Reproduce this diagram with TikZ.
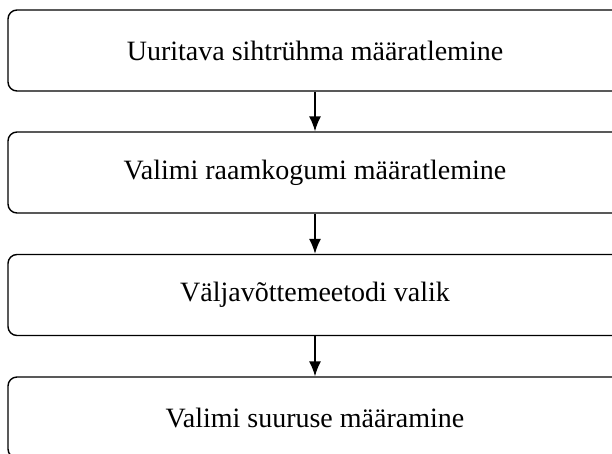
\documentclass[tikz,border=0pt]{standalone}
\usepackage{fontspec}
\setmainfont{Liberation Serif}
\usetikzlibrary{arrows.meta}

\tikzset{
  stage/.style={draw, line width=1.4pt, rounded corners=9pt, minimum width=614pt,
    minimum height=81pt, inner sep=0pt, font=\fontsize{28}{34}\selectfont},
  flow/.style={-{Latex[length=15pt,width=12pt]}, line width=1.4pt}
}

\begin{document}
\begin{tikzpicture}[x=1pt,y=1pt]
        \useasboundingbox (0,0) rectangle (612,-453);

        \node [stage] (sihtryhm) at (315, -50.5) {Uuritava sihtrühma määratlemine};
        \node [stage] (raamkogum) at (315, -172.5) {Valimi raamkogumi määratlemine};
        \node [stage] (meetod) at (315, -295) {Väljavõttemeetodi valik};
        \node [stage] (suurus) at (315, -417.5) {Valimi suuruse määramine};

        \draw[flow] (sihtryhm.south) -- (raamkogum.north);
        \draw[flow] (raamkogum.south) -- (meetod.north);
        \draw[flow] (meetod.south) -- (suurus.north);
      \end{tikzpicture}
\end{document}
